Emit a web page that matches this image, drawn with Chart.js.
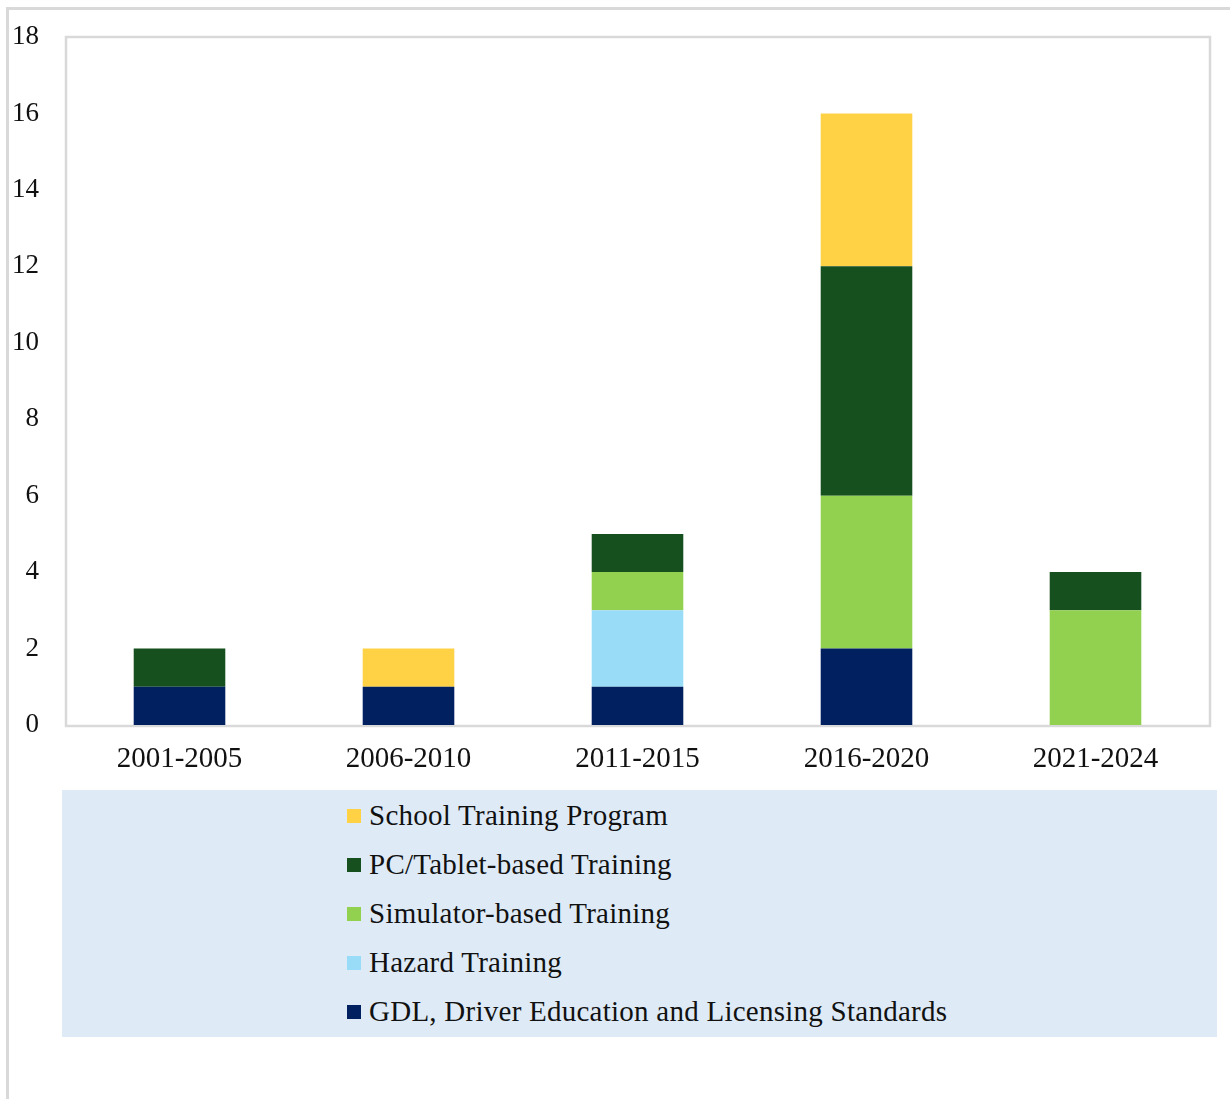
<!DOCTYPE html>
<html>
<head>
<meta charset="utf-8">
<script src="https://cdn.jsdelivr.net/npm/chart.js@4.4.1/dist/chart.umd.min.js"></script>
<style>
  html, body { margin: 0; padding: 0; background: #fff; }
  #frame {
    position: absolute; left: 6px; top: 7px; width: 1230px; height: 1100px;
    border-top: 3px solid #d9d9d9; border-left: 3px solid #d9d9d9;
  }
  #chartBox { position: absolute; left: 0; top: 0; width: 1230px; height: 780px; }
  #legendBox {
    position: absolute; left: 62px; top: 790px; width: 1155px; height: 247px;
    background: #deebf7;
  }
  #legendBox ul { list-style: none; margin: 0; padding: 1px 0 0 285px; }
  #legendBox li {
    height: 49px; display: flex; align-items: center; letter-spacing: 0.25px;
    font-family: 'Liberation Serif', 'DejaVu Serif', serif; font-size: 29px; color: #111;
  }
  #legendBox li span.box { width: 14px; height: 14px; margin-right: 8px; flex: none; }
</style>
</head>
<body>
<div id="frame"></div>
<div id="chartBox"><canvas id="barChart"></canvas></div>
<div id="legendBox"></div>
<script>
// Datos
const periodos = ['2001-2005', '2006-2010', '2011-2015', '2016-2020', '2021-2024'];
const gdl = [1, 1, 1, 2, 0];
const hazard = [0, 0, 2, 0, 0];
const simulator = [0, 0, 1, 4, 3];
const pcTablet = [1, 0, 1, 6, 1];
const school = [0, 1, 0, 4, 0];

const serif = "'Liberation Serif', 'DejaVu Serif', serif";

// marco gris del área del gráfico
const plotBorder = {
    id: 'plotBorder',
    beforeDatasetsDraw(chart) {
        const a = chart.chartArea;
        const ctx = chart.ctx;
        ctx.save();
        ctx.strokeStyle = '#d9d9d9';
        ctx.lineWidth = 2.5;
        ctx.strokeRect(a.left + 1, a.top, a.right - a.left - 1, a.bottom - a.top + 1);
        ctx.restore();
    }
};

// leyenda en HTML (vertical, de arriba hacia abajo)
const htmlLegend = {
    id: 'htmlLegend',
    afterUpdate(chart) {
        const box = document.getElementById('legendBox');
        box.innerHTML = '';
        const ul = document.createElement('ul');
        const items = chart.options.plugins.legend.labels.generateLabels(chart).reverse();
        items.forEach(item => {
            const li = document.createElement('li');
            const sq = document.createElement('span');
            sq.className = 'box';
            sq.style.background = item.fillStyle;
            li.appendChild(sq);
            li.appendChild(document.createTextNode(item.text));
            ul.appendChild(li);
        });
        box.appendChild(ul);
    }
};

const ctxBar = document.getElementById('barChart').getContext('2d');
const barChart = new Chart(ctxBar, {
    type: 'bar',
    data: {
        labels: periodos,
        datasets: [
            { label: 'GDL, Driver Education and Licensing Standards', data: gdl, backgroundColor: '#002060' },
            { label: 'Hazard Training', data: hazard, backgroundColor: '#99dcf7' },
            { label: 'Simulator-based Training', data: simulator, backgroundColor: '#92d050' },
            { label: 'PC/Tablet-based Training', data: pcTablet, backgroundColor: '#17501f' },
            { label: 'School Training Program', data: school, backgroundColor: '#ffd145' }
        ]
    },
    options: {
        responsive: true,
        maintainAspectRatio: false,
        animation: false,
        barPercentage: 0.4,
        categoryPercentage: 1,
        layout: { padding: { left: 0, right: 20, top: 37, bottom: 0 } },
        scales: {
            x: {
                stacked: true,
                grid: { display: false, drawTicks: false },
                border: { display: false },
                ticks: { padding: 17, color: '#111', font: { family: serif, size: 29 } },
                afterFit: function (scale) { scale.height = 55; }
            },
            y: {
                stacked: true,
                min: 0,
                max: 18,
                grid: { display: false, drawTicks: false },
                border: { display: false },
                ticks: { stepSize: 2, padding: 26, color: '#111', font: { family: serif, size: 27 } },
                afterFit: function (scale) {
                    scale.width = 65;
                    scale.paddingTop = 0;
                    scale.paddingBottom = 0;
                }
            }
        },
        plugins: {
            legend: { display: false },
            tooltip: { enabled: false }
        }
    },
    plugins: [plotBorder, htmlLegend]
});
</script>
</body>
</html>
